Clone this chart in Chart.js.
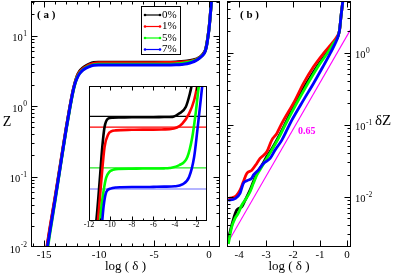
<!DOCTYPE html>
<html><head><meta charset="utf-8">
<script src="https://cdn.jsdelivr.net/npm/chart.js@4.4.1/dist/chart.umd.min.js"></script>
<style>
html,body{margin:0;padding:0;background:#fff;}
#wrap{position:relative;width:395px;height:275px;overflow:hidden;background:#fff;}
canvas{position:absolute;}
</style></head><body>
<div id="wrap">
<canvas id="ca" width="222" height="275" style="left:0;top:0;width:222px;height:275px"></canvas>
<canvas id="cb" width="173" height="275" style="left:222px;top:0;width:173px;height:275px"></canvas>
<canvas id="ci" width="135" height="160" style="left:80px;top:80px;width:135px;height:160px"></canvas>
</div>
<script>
// ---------- data ----------
const seriesLabels = ['0%', '1%', '5%', '7%'];

// panel (a): Z vs log(delta)
const aLogDelta = [-14.9,-14.5,-14.0,-13.5,-13.0,-12.7,-12.4,-12.2,-12.0,-11.8,-11.6,-11.4,-11.2,-11.0,-10.5,-10.0,-9.0,-8.0,-7.0,-6.0,-5.0,-4.0,-3.0,-2.5,-2.0,-1.5,-1.2,-1.0,-0.8,-0.6,-0.4,-0.3,-0.2,-0.1,0.0,0.1,0.2,0.3];
const aZ0 = [0.0068,0.017,0.05,0.155,0.48,0.9,1.6,2.15,2.7,3.1,3.35,3.55,3.72,3.87,4.15,4.18,4.19,4.19,4.195,4.2,4.2,4.2,4.24,4.3,4.38,4.5,4.62,4.78,5.0,5.35,5.9,6.5,7.7,9.7,12.7,18.5,28.5,45];
const aZ1 = [0.0072,0.018,0.052,0.16,0.49,0.91,1.6,2.12,2.65,3.0,3.25,3.45,3.62,3.78,4.04,4.12,4.13,4.13,4.134,4.134,4.134,4.14,4.16,4.21,4.29,4.42,4.57,4.74,4.97,5.3,5.85,6.45,7.6,9.6,12.6,18.3,28.3,45];
const aZ5 = [0.0058,0.015,0.046,0.148,0.46,0.86,1.52,2.05,2.55,2.9,3.15,3.35,3.52,3.64,3.87,3.92,3.93,3.93,3.932,3.932,3.932,3.935,3.97,4.02,4.15,4.33,4.5,4.68,4.92,5.25,5.8,6.4,7.5,9.5,12.5,18,28,45];
const aZ7 = [0.0065,0.016,0.048,0.15,0.47,0.88,1.55,2.08,2.5,2.85,3.1,3.3,3.45,3.57,3.79,3.825,3.83,3.835,3.836,3.836,3.836,3.836,3.86,3.9,3.99,4.2,4.42,4.62,4.88,5.2,5.75,6.35,7.45,9.4,12.4,18,28,45];
const aXTicks = [-15, -10, -5, 0];
const aYTicks = [0.01, 0.1, 1, 10];

// inset: zoom of the plateau (linear Z)
const insX0 = [-11.45,-11.31,-11.0,-10.76,-10.55,-10.24,-9.8,-9,-8,-7,-6,-5,-4.2,-3.6,-2.98,-2.6,-2.43,-2.3];
const insZ0 = [3.60,3.664,3.871,4.044,4.147,4.19,4.196,4.197,4.198,4.198,4.198,4.199,4.20,4.217,4.251,4.32,4.364,4.42];
const insX1 = [-11.3,-11.16,-10.85,-10.55,-10.2,-9.93,-9.5,-8,-7,-6,-5,-4.5,-3.8,-3.3,-2.67,-2.2,-1.9,-1.8];
const insZ1 = [3.60,3.664,3.871,4.044,4.11,4.125,4.13,4.133,4.134,4.134,4.135,4.136,4.145,4.165,4.217,4.286,4.364,4.40];
const insX5 = [-11.05,-10.95,-10.85,-10.63,-10.4,-10.1,-9.78,-9.5,-8,-7,-6,-5,-4.5,-3.6,-2.83,-2.37,-2.06,-1.81,-1.7];
const insZ5 = [3.60,3.664,3.73,3.82,3.885,3.915,3.925,3.929,3.931,3.932,3.932,3.933,3.935,3.949,3.992,4.096,4.217,4.338,4.38];
const insX7 = [-10.85,-10.76,-10.63,-10.39,-10.0,-9.46,-9,-8,-7,-6,-5,-4,-3.3,-2.67,-2.2,-1.9,-1.59,-1.44,-1.35];
const insZ7 = [3.60,3.664,3.74,3.81,3.828,3.834,3.835,3.836,3.836,3.837,3.838,3.84,3.85,3.888,3.992,4.13,4.286,4.364,4.42];
const insLevels = [4.203, 4.147, 3.935, 3.826];
const insXTicks = [-12, -10, -8, -6, -4, -2];

// panel (b): dZ vs log(delta)
const bX0 = [-4.40,-4.275,-4.09,-3.903,-3.781,-3.595,-3.472,-3.346,-3.16,-2.974,-2.788,-2.543,-2.294,-1.85,-1.11,-0.52,-0.275,-0.223,-0.149,-0.12];
const bY0 = [0.0026,0.004,0.0065,0.0072,0.0089,0.0123,0.0161,0.021,0.027,0.036,0.046,0.067,0.102,0.222,0.64,1.34,2.05,3.14,5.4,7];
const bX1 = [-4.40,-4.216,-4.09,-3.967,-3.844,-3.717,-3.53,-3.346,-3.223,-2.974,-2.788,-2.602,-2.416,-1.922,-1.613,-1.242,-0.87,-0.558,-0.372,-0.275,-0.223,-0.149,-0.12];
const bY1 = [0.0094,0.0098,0.0105,0.0123,0.0161,0.021,0.0233,0.0289,0.034,0.0419,0.061,0.0755,0.104,0.219,0.373,0.635,0.975,1.34,1.66,2.05,3.14,5.4,7];
const bX5 = [-4.40,-4.275,-4.152,-4.03,-3.903,-3.781,-3.595,-3.472,-3.346,-3.16,-2.974,-2.788,-2.543,-2.294,-1.80,-1.078,-0.498,-0.275,-0.223,-0.149,-0.12];
const bY5 = [0.0022,0.0038,0.005,0.0059,0.0076,0.0089,0.0117,0.0153,0.0199,0.0259,0.034,0.0443,0.0643,0.0984,0.219,0.635,1.34,2.05,3.14,5.4,7];
const bX7 = [-4.40,-4.152,-3.967,-3.844,-3.717,-3.53,-3.472,-3.286,-3.10,-2.851,-2.665,-2.416,-2.171,-2.045,-1.613,-1.242,-0.892,-0.621,-0.435,-0.335,-0.275,-0.223,-0.149,-0.12];
const bY7 = [0.0089,0.0094,0.0111,0.0153,0.0166,0.0181,0.0199,0.0233,0.0289,0.034,0.0443,0.061,0.0932,0.1155,0.219,0.373,0.635,0.975,1.34,1.66,2.05,3.14,5.4,7];
const bSlopeX = [-4.45, 0.15];
const bSlopeY = [0.0022, 2.14];
const slopeLabel = '0.65';
const bXTicks = [-4, -3, -2, -1, 0];
const bYTicks = [0.01, 0.1, 1];

// ---------- styles ----------
const SERIF = '"Liberation Serif","DejaVu Serif",serif';
const COLORS = ['#000000', '#ff0000', '#00ff00', '#0000ff'];
const LEVEL_COLORS = ['#000000', '#ff0000', '#22e822', '#6a6aff'];

function pts(xs, ys) { return xs.map((x, i) => ({ x: x, y: ys[i] })); }
function logMinor(min, max) {
  const out = [];
  for (let d = Math.floor(Math.log10(min)); d <= Math.ceil(Math.log10(max)); d++) {
    for (let m = 2; m <= 9; m++) { const v = m * Math.pow(10, d); if (v >= min && v <= max) out.push(v); }
  }
  return out;
}
function range(a, b, step) { const o = []; for (let v = a; v <= b + 1e-9; v += step) o.push(Math.round(v * 1000) / 1000); return o; }

function drawFrame(chart, o) {
  const ctx = chart.ctx, a = chart.chartArea, xs = chart.scales.x, ys = chart.scales.y;
  ctx.save();
  ctx.strokeStyle = '#000'; ctx.lineWidth = 1;
  const L = Math.round(a.left) + 0.5, R = Math.round(a.right) - 0.5, T = Math.round(a.top) + 0.5, B = Math.round(a.bottom) - 0.5;
  ctx.strokeRect(L, T, R - L, B - T);
  ctx.beginPath();
  const tx = (v, len) => {
    const p = Math.round(xs.getPixelForValue(v)) + 0.5;
    if (p < L || p > R) return;
    ctx.moveTo(p, B); ctx.lineTo(p, B - len); ctx.moveTo(p, T); ctx.lineTo(p, T + len);
  };
  const ty = (v, len) => {
    const p = Math.round(ys.getPixelForValue(v)) + 0.5;
    if (p < T || p > B) return;
    ctx.moveTo(L, p); ctx.lineTo(L + len, p); ctx.moveTo(R, p); ctx.lineTo(R - len, p);
  };
  (o.xMinor || []).forEach(v => tx(v, o.minLen));
  (o.xMajor || []).forEach(v => tx(v, o.majLen));
  (o.yMinor || []).forEach(v => ty(v, o.minLen));
  (o.yMajor || []).forEach(v => ty(v, o.majLen));
  ctx.stroke();
  ctx.restore();
}

function drawPow(ctx, v, x, y, align) {
  const e = String(Math.round(Math.log10(v)));
  ctx.save();
  ctx.fillStyle = '#000'; ctx.textAlign = 'left'; ctx.textBaseline = 'middle';
  ctx.font = '10.5px ' + SERIF; const wb = ctx.measureText('10').width;
  ctx.font = '7.5px ' + SERIF; const we = ctx.measureText(e).width;
  const x0 = align === 'right' ? x - wb - we - 0.5 : x;
  ctx.font = '10.5px ' + SERIF; ctx.fillText('10', x0, y + 3);
  ctx.font = '7.5px ' + SERIF; ctx.fillText(e, x0 + wb + 0.5, y - 2);
  ctx.restore();
}

function text(ctx, s, x, y, font, align, color) {
  ctx.save();
  ctx.font = font; ctx.fillStyle = color || '#000';
  ctx.textAlign = align || 'center'; ctx.textBaseline = 'middle';
  ctx.fillText(s, x, y);
  ctx.restore();
}

function baseOptions(xMin, xMax, yType, yMin, yMax, pad, xH, yW) {
  return {
    responsive: false, animation: false, devicePixelRatio: 1, events: [],
    layout: { padding: pad },
    plugins: { legend: { display: false }, tooltip: { enabled: false } },
    elements: { point: { radius: 0 }, line: { cubicInterpolationMode: 'monotone' } },
    scales: {
      x: { type: 'linear', min: xMin, max: xMax, ticks: { display: false }, grid: { display: false }, border: { display: false },
           afterFit: s => { s.height = xH; } },
      y: { type: yType, min: yMin, max: yMax, ticks: { display: false }, grid: { display: false }, border: { display: false },
           afterFit: s => { s.width = yW; } }
    }
  };
}

// ---------- panel (a) ----------
const aSeries = [aZ0, aZ1, aZ5, aZ7];
new Chart(document.getElementById('ca'), {
  type: 'line',
  data: { datasets: aSeries.map((ys, i) => ({ data: pts(aLogDelta, ys), borderColor: COLORS[i], borderWidth: 3, clip: 0, order: 3 - i })) },
  options: baseOptions(-16.2, 1, 'logarithmic', 0.01, 31, { top: 1, right: 2, left: 0, bottom: 0 }, 28, 31),
  plugins: [{
    id: 'decoA',
    afterDraw(chart) {
      const ctx = chart.ctx, xs = chart.scales.x, ys = chart.scales.y, a = chart.chartArea;
      drawFrame(chart, { xMajor: aXTicks, xMinor: range(-16, 1, 1), yMajor: aYTicks, yMinor: logMinor(0.01, 31), majLen: 6, minLen: 3 });
      aXTicks.forEach(v => text(ctx, String(v), xs.getPixelForValue(v), 255, '11px ' + SERIF));
      text(ctx, 'log ( δ )', (a.left + a.right) / 2, 267, '13px ' + SERIF);
      aYTicks.forEach(v => drawPow(ctx, v, 27, ys.getPixelForValue(v), 'right'));
      text(ctx, 'Z', 7, 122, '14px ' + SERIF);
      text(ctx, '( a )', 37, 15, 'bold 11px ' + SERIF, 'left');
      // legend
      ctx.save();
      ctx.fillStyle = '#fff'; ctx.fillRect(141.5, 6.5, 39, 48);
      ctx.strokeStyle = '#000'; ctx.lineWidth = 1; ctx.strokeRect(141.5, 6.5, 39, 48);
      const rows = [15, 26.5, 38, 49.5];
      seriesLabels.forEach((lab, i) => {
        const y = rows[i];
        ctx.strokeStyle = COLORS[i]; ctx.lineWidth = 1.2;
        ctx.beginPath(); ctx.moveTo(145, y); ctx.lineTo(160, y); ctx.stroke();
        ctx.fillStyle = COLORS[i];
        [145, 160].forEach(px => { ctx.beginPath(); ctx.arc(px, y, 1.3, 0, Math.PI * 2); ctx.fill(); });
        text(ctx, lab, 162, y, '11px ' + SERIF, 'left');
      });
      ctx.restore();
    }
  }]
});

// ---------- inset ----------
const insSeries = [[insX0, insZ0], [insX1, insZ1], [insX5, insZ5], [insX7, insZ7]];
const insDatasets = [];
insLevels.forEach((lv, i) => insDatasets.push({ data: pts([-12, -1], [lv, lv]), borderColor: LEVEL_COLORS[i], borderWidth: 1.2, clip: 0, order: 10 + (3 - i) }));
insSeries.forEach((s, i) => insDatasets.push({ data: pts(s[0], s[1]), borderColor: COLORS[i], borderWidth: 2.6, clip: 0, order: 3 - i }));
new Chart(document.getElementById('ci'), {
  type: 'line',
  data: { datasets: insDatasets },
  options: baseOptions(-12, -1, 'linear', 3.66, 4.36, { top: 6, right: 8, left: 0, bottom: 0 }, 19, 9),
  plugins: [{
    id: 'decoI',
    beforeDatasetsDraw(chart) {
      const a = chart.chartArea, ctx = chart.ctx;
      ctx.save(); ctx.fillStyle = '#fff'; ctx.fillRect(a.left, a.top, a.right - a.left, a.bottom - a.top); ctx.restore();
    },
    afterDraw(chart) {
      const ctx = chart.ctx, xs = chart.scales.x;
      drawFrame(chart, { xMajor: insXTicks, xMinor: range(-11, -1, 1), majLen: 4, minLen: 2 });
      insXTicks.forEach(v => text(ctx, String(v), xs.getPixelForValue(v), 145, '8px ' + SERIF));
    }
  }]
});

// ---------- panel (b) ----------
const bSeries = [[bX0, bY0], [bX1, bY1], [bX5, bY5], [bX7, bY7]];
const bDatasets = bSeries.map((s, i) => ({ data: pts(s[0], s[1]), borderColor: COLORS[i], borderWidth: 2.8, clip: 0, order: 3 - i }));
bDatasets.push({ data: pts(bSlopeX, bSlopeY), borderColor: '#ff00ff', borderWidth: 1.1, clip: 0, cubicInterpolationMode: 'default', tension: 0, order: 10 });
new Chart(document.getElementById('cb'), {
  type: 'line',
  data: { datasets: bDatasets },
  options: baseOptions(-4.45, 0.15, 'logarithmic', 0.002, 5.2, { top: 1, right: 44, left: 0, bottom: 0 }, 28, 5),
  plugins: [{
    id: 'decoB',
    afterDraw(chart) {
      const ctx = chart.ctx, xs = chart.scales.x, ys = chart.scales.y, a = chart.chartArea;
      drawFrame(chart, { xMajor: bXTicks, xMinor: [], yMajor: bYTicks, yMinor: logMinor(0.002, 5.2), majLen: 6, minLen: 3 });
      bXTicks.forEach(v => text(ctx, String(v), xs.getPixelForValue(v), 255, '11px ' + SERIF));
      text(ctx, 'log ( δ )', (a.left + a.right) / 2, 267, '13px ' + SERIF);
      bYTicks.forEach(v => drawPow(ctx, v, a.right + 4, ys.getPixelForValue(v), 'left'));
      text(ctx, 'δZ', 153, 121, '15px ' + SERIF, 'left');
      text(ctx, '( b )', 18, 15, 'bold 11px ' + SERIF, 'left');
      text(ctx, slopeLabel, 76, 131, 'bold 10px ' + SERIF, 'left', '#ff00ff');
    }
  }]
});
</script>
</body></html>
